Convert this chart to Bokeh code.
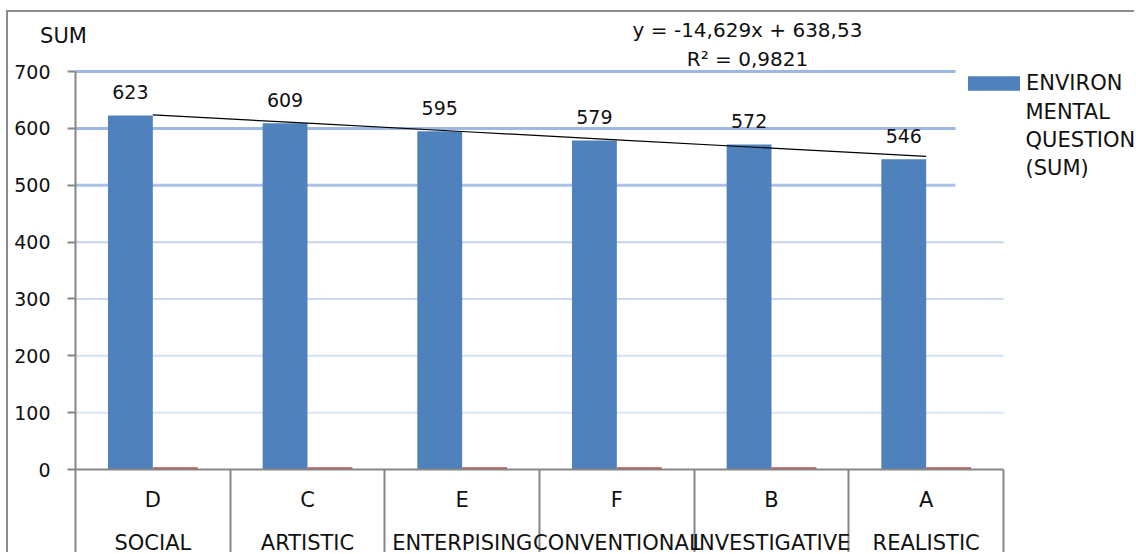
import numpy as np
from bokeh.plotting import figure
from bokeh.models import (ColumnDataSource, Label, FixedTicker, LinearAxis, BoxAnnotation,
                          Legend, LegendItem, Range1d)
from bokeh.transform import dodge
from bokeh.core.properties import value
from bokeh.embed import file_html
from bokeh.resources import INLINE

# ---- data ----
codes = ["D", "C", "E", "F", "B", "A"]
types = ["SOCIAL", "ARTISTIC", "ENTERPISING", "CONVENTIONAL", "INVESTIGATIVE", "REALISTIC"]
env_sum = [623, 609, 595, 579, 572, 546]
second_series = [4, 4, 4, 4, 4, 4]
y_ticks = [0, 100, 200, 300, 400, 500, 600, 700]
legend_lines = ["ENVIRON", "MENTAL", "QUESTION", "(SUM)"]
y_title = "SUM"

# ---- styles ----
grid_colors = ["#868686", "#dce6f6", "#d5e0f3", "#cdd9f0", "#c5d3ee", "#abc2e8", "#9db8e3", "#9db8e3"]
grid_widths = [0, 2, 2, 2, 2, 3, 3, 3]
FONT = "DejaVu Sans"
TXT = "#111111"
AX = "#868686"
BLUE, RED = "#4f81bd", "#c0504d"

pos = list(range(1, len(codes) + 1))
bounds_x = [0.5 + i for i in range(len(codes) + 1)]
src = ColumnDataSource(dict(x=pos, code=codes, typ=types, v=env_sum, v2=second_series,
                            lbl=[str(v) for v in env_sum]))

# trendline (least squares, as in the chart)
slope, intercept = np.polyfit(pos, env_sum, 1)
fit = [slope * x + intercept for x in pos]
ss_res = sum((y - f) ** 2 for y, f in zip(env_sum, fit))
ss_tot = sum((y - np.mean(env_sum)) ** 2 for y in env_sum)
r2 = 1 - ss_res / ss_tot
eq_text = ("y = %.3fx + %.2f" % (slope, intercept)).replace(".", ",")
r2_text = ("R² = %.4f" % r2).replace(".", ",")

# ---- layout (canvas placed at page (8, 12)) ----
W, H = 1128, 542
PX_CAT = 154.67     # px per category
PX_UNIT = 0.5684    # px per value unit
X0_PX, Y0_PX = 67, 457   # canvas px of x=0.5 and y=0
x_start = 0.5 - X0_PX / PX_CAT
x_end = x_start + W / PX_CAT
y_end = Y0_PX / PX_UNIT
y_start = y_end - H / PX_UNIT


def px2x(px):
    return x_start + (px - 8) / PX_CAT


def px2y(py):
    return y_end - (py - 12) / PX_UNIT


p = figure(width=W, height=H, output_backend="svg", toolbar_location=None,
           x_range=Range1d(x_start, x_end), y_range=Range1d(y_start, y_end),
           min_border_left=0, min_border_right=0, min_border_top=0, min_border_bottom=0)
p.styles = {"margin-left": "6px", "margin-top": "10px",
            "border-top": "2px solid #8c8c8c", "border-left": "2px solid #8c8c8c"}
p.outline_line_color = None
p.xgrid.visible = False
p.ygrid.visible = False

# gridlines
gsrc = ColumnDataSource(dict(y=y_ticks[1:], c=grid_colors[1:], w=grid_widths[1:]))
p.segment(x0=0.5, x1=len(codes) + 0.5, y0="y", y1="y", line_color="c", line_width="w", source=gsrc)

blue = p.vbar(x=dodge("x", -0.145, range=p.x_range), top="v", width=0.29, source=src,
              fill_color=BLUE, line_color=None)
p.vbar(x=dodge("x", 0.145, range=p.x_range), top="v2", width=0.29, source=src,
       fill_color=RED, line_color=None)

p.line(pos, fit, line_color="black", line_width=1.2)

p.text(x=dodge("x", -0.145, range=p.x_range), y="v", text="lbl", source=src,
       text_align="center", text_baseline="middle", y_offset=-23,
       text_font=value(FONT), text_font_size="19px", text_color=TXT)

# y axis (drawn at x = 0.5)
ya = p.yaxis[0]
ya.fixed_location = 0.5
ya.ticker = FixedTicker(ticks=y_ticks)
ya.bounds = (y_ticks[0], y_ticks[-1])
ya.major_label_text_font = FONT
ya.major_label_text_font_size = "19px"
ya.major_label_text_color = TXT
ya.axis_line_color = AX
ya.axis_line_width = 2
ya.major_tick_line_color = AX
ya.major_tick_line_width = 2
ya.major_tick_out = 8
ya.major_tick_in = 0
ya.minor_tick_line_color = None
ya.major_label_standoff = 17

# x axis (drawn at y = 0): category codes
xa = p.xaxis[0]
xa.fixed_location = 0
xa.ticker = FixedTicker(ticks=pos, minor_ticks=[])
xa.bounds = (0.5, len(codes) + 0.5)
xa.major_label_overrides = {i: c for i, c in zip(pos, codes)}
xa.major_label_text_font = FONT
xa.major_label_text_font_size = "21px"
xa.major_label_text_color = TXT
xa.major_label_standoff = 18
xa.axis_line_color = AX
xa.axis_line_width = 2
xa.major_tick_line_color = None
xa.minor_tick_line_color = None
xa.major_tick_out = 0
xa.major_tick_in = 0
xa.minor_tick_out = 0
xa.minor_tick_in = 0

# category separators (ticks only)
xsep = LinearAxis(fixed_location=0, ticker=FixedTicker(ticks=bounds_x, minor_ticks=[]),
                  major_label_text_font_size="0px", major_label_text_alpha=0,
                  axis_line_color=None, major_tick_line_color=AX, major_tick_line_width=2,
                  major_tick_out=90, major_tick_in=0, minor_tick_line_color=None)
p.add_layout(xsep, "below")

# second category row (type names)
xa2 = LinearAxis(fixed_location=0, ticker=FixedTicker(ticks=pos, minor_ticks=[]),
                 major_label_overrides={i: t for i, t in zip(pos, types)},
                 major_label_text_font=FONT, major_label_text_font_size="21px",
                 major_label_text_color=TXT, major_label_standoff=61,
                 axis_line_color=None, major_tick_line_color=None, minor_tick_line_color=None,
                 major_tick_out=0, major_tick_in=0, minor_tick_out=0, minor_tick_in=0)
p.add_layout(xa2, "below")

# texts
p.add_layout(Label(x=px2x(63), y=px2y(35), text=y_title, text_align="center", text_baseline="middle",
                   text_font=FONT, text_font_size="21px", text_color=TXT))
p.add_layout(Label(x=px2x(747), y=px2y(29), text=eq_text, text_align="center", text_baseline="middle",
                   text_font=FONT, text_font_size="20px", text_color=TXT))
p.add_layout(Label(x=px2x(747), y=px2y(58), text=r2_text, text_align="center", text_baseline="middle",
                   text_font=FONT, text_font_size="20px", text_color=TXT))

# legend: white background, swatch + first line, remaining lines as labels
p.add_layout(BoxAnnotation(left=px2x(955), right=x_end, top=px2y(63), bottom=px2y(205),
                           fill_color="white", fill_alpha=1, line_alpha=0))
legend = Legend(items=[LegendItem(label=legend_lines[0], renderers=[blue])],
                location=(961 - 8, 554 - 95), glyph_width=65, glyph_height=18, label_standoff=0,
                label_height=24, padding=0, spacing=0, margin=0,
                label_text_font=FONT, label_text_font_size="21px", label_text_color=TXT,
                border_line_color=None, background_fill_alpha=0)
p.add_layout(legend)
for line, py in zip(legend_lines[1:], [111, 139, 167]):
    p.add_layout(Label(x=px2x(1025), y=px2y(py), text=line, text_align="left", text_baseline="middle",
                       text_font=FONT, text_font_size="21px", text_color=TXT))

open("out.html", "w").write(file_html(p, INLINE))
